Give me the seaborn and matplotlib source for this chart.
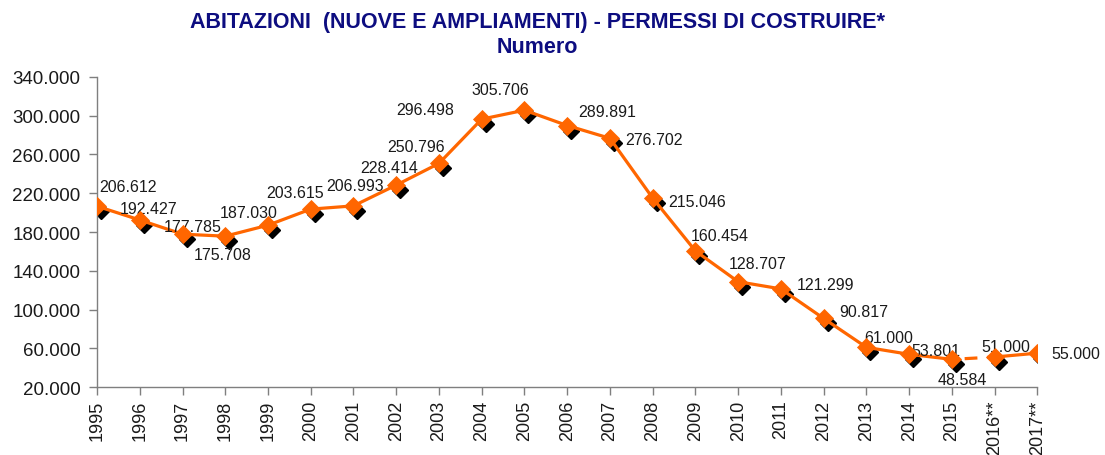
import matplotlib
matplotlib.use("Agg")
import matplotlib.pyplot as plt
import matplotlib.transforms as mtransforms
import pandas as pd
import seaborn as sns

# dati
anni = ["1995", "1996", "1997", "1998", "1999", "2000", "2001", "2002", "2003",
        "2004", "2005", "2006", "2007", "2008", "2009", "2010", "2011", "2012",
        "2013", "2014", "2015", "2016**", "2017**"]
permessi = [206612, 192427, 177785, 175708, 187030, 203615, 206993, 228414,
            250796, 296498, 305706, 289891, 276702, 215046, 160454, 128707,
            121299, 90817, 61000, 53801, 48584, 51000, 55000]
y_ticks = [20000, 60000, 100000, 140000, 180000, 220000, 260000, 300000, 340000]

# posizione delle etichette (pixel rispetto al punto)
offset_etichette = [(31, -20), (9, -11), (10, -8), (-3, 18), (-19, -13),
                    (-16, -17), (2, -20), (-7, -18), (-23, -17), (-57, -10),
                    (-24, -21), (40, -14), (44, 1), (44, 3), (24, -15),
                    (19, -18), (45, -4), (40, -7), (22, -10), (27, -4),
                    (10, 20), (11, -11), (38, 0)]


def formato(v):
    return f"{int(v):,}".replace(",", ".")


df = pd.DataFrame({"pos": range(len(anni)), "anno": anni, "valore": permessi})

sns.set_style("white")
plt.rcParams['font.family'] = ['Liberation Sans', 'DejaVu Sans']

ARANCIO = "#FF6600"
fig = plt.figure(figsize=(11.05, 4.56), dpi=100)
ax = fig.add_axes([0.0878, 0.149, 0.851, 0.680])

# ombra dei marcatori
ombra = mtransforms.offset_copy(ax.transData, fig=fig, x=4, y=-5, units='dots')
ax.plot(df["pos"], df["valore"], linestyle="none", marker="D", markersize=8.5,
        color="black", transform=ombra, zorder=2)

# linea continua fino al 2015, tratteggiata verso il 2016, poi continua
solido1 = df.iloc[:21]
tratto = df.iloc[20:22]
solido2 = df.iloc[21:]
sns.lineplot(data=solido1, x="pos", y="valore", ax=ax, color=ARANCIO,
             linewidth=2.3, zorder=3)
sns.lineplot(data=tratto, x="pos", y="valore", ax=ax, color=ARANCIO,
             linewidth=2.3, linestyle=(3, (4, 3)), zorder=3)
sns.lineplot(data=solido2, x="pos", y="valore", ax=ax, color=ARANCIO,
             linewidth=2.3, zorder=3)
sns.scatterplot(data=df, x="pos", y="valore", ax=ax, marker="D", s=95,
                color=ARANCIO, edgecolor=ARANCIO, linewidth=0, zorder=4)

for i, v in enumerate(permessi):
    dx, dy = offset_etichette[i]
    ax.annotate(formato(v), (i, v), xytext=(dx, -dy), textcoords="offset pixels",
                ha="center", va="center", fontsize=11.5, color="#1a1a1a")

ax.set_xlim(0, len(anni) - 1)
ax.set_ylim(20000, 340000)
ax.set_yticks(y_ticks)
ax.set_yticklabels([formato(t) for t in y_ticks], fontsize=13.5, color="#1a1a1a")
ax.set_xticks(range(len(anni)))
ax.set_xticklabels(anni, rotation=90, fontsize=13, color="#1a1a1a")
ax.set_xlabel("")
ax.set_ylabel("")

for lato in ["top", "right"]:
    ax.spines[lato].set_visible(False)
for lato in ["left", "bottom"]:
    ax.spines[lato].set_color("#7f7f7f")
    ax.spines[lato].set_linewidth(1.0)
ax.tick_params(axis="both", direction="out", length=6, width=1,
               color="#7f7f7f", left=True, bottom=True, pad=3)
ax.tick_params(axis="y", pad=6)

fig.text(0.486, 0.950, "ABITAZIONI  (NUOVE E AMPLIAMENTI) - PERMESSI DI COSTRUIRE*",
         ha="center", va="center", fontsize=15.5, fontweight="bold",
         color="#0d0d80", family=["Liberation Sans Narrow", "Liberation Sans"])
fig.text(0.486, 0.895, "Numero", ha="center", va="center", fontsize=15.5,
         fontweight="bold", color="#0d0d80",
         family=["Liberation Sans Narrow", "Liberation Sans"])

fig.savefig("out.png", dpi=100)
